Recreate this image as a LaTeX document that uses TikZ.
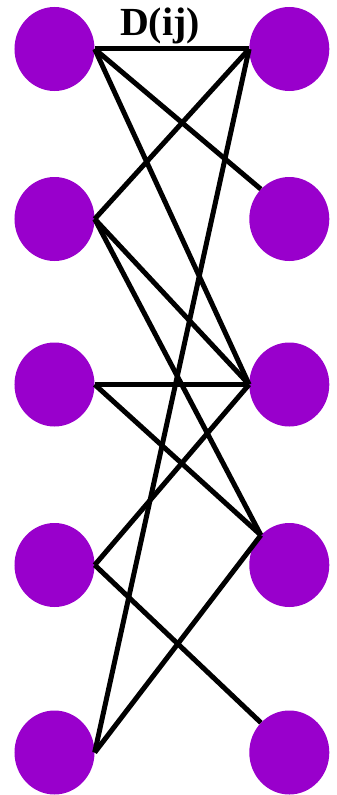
\documentclass[tikz,border=0pt]{standalone}
\usepackage{fontspec}
\setmainfont{Liberation Serif}
\usetikzlibrary{shapes.geometric}
\definecolor{dotpurple}{HTML}{9900CC}

\begin{document}
\begin{tikzpicture}[x=1bp, y=-1bp,
  dot/.style={ellipse, fill=dotpurple, minimum width=80bp, minimum height=84bp, inner sep=0pt},
  link/.style={black, line width=5bp}]

% Frame — same size as the reference
\useasboundingbox (0,0) rectangle (336,795);

% Left column
\node[dot] (l1) at (54.5,49) {};
\node[dot] (l2) at (54.5,219) {};
\node[dot] (l3) at (54.5,384.5) {};
\node[dot] (l4) at (54.5,565) {};
\node[dot] (l5) at (54.5,752.5) {};

% Right column
\node[dot] (r1) at (289.3,49) {};
\node[dot] (r2) at (289.3,219) {};
\node[dot] (r3) at (289.3,384.5) {};
\node[dot] (r4) at (289.3,565) {};
\node[dot] (r5) at (289.3,752.5) {};

% Label over the top link
\node[font=\fontsize{40}{48}\selectfont\bfseries, anchor=base, inner sep=0pt] (dij) at (160,36) {D(ij)};

% Links — left ends on the east side, right ends west or north west
\draw[link] (l1.east) -- (r1.west);
\draw[link] (l1.east) -- (r2.north west);
\draw[link] (l1.east) -- (r3.west);
\draw[link] (l2.east) -- (r1.west);
\draw[link] (l2.east) -- (r3.west);
\draw[link] (l2.east) -- (r4.north west);
\draw[link] (l3.east) -- (r3.west);
\draw[link] (l3.east) -- (r4.north west);
\draw[link] (l4.east) -- (r3.west);
\draw[link] (l4.east) -- (r5.north west);
\draw[link] (l5.east) -- (r1.west);
\draw[link] (l5.east) -- (r4.north west);

\end{tikzpicture}
\end{document}
